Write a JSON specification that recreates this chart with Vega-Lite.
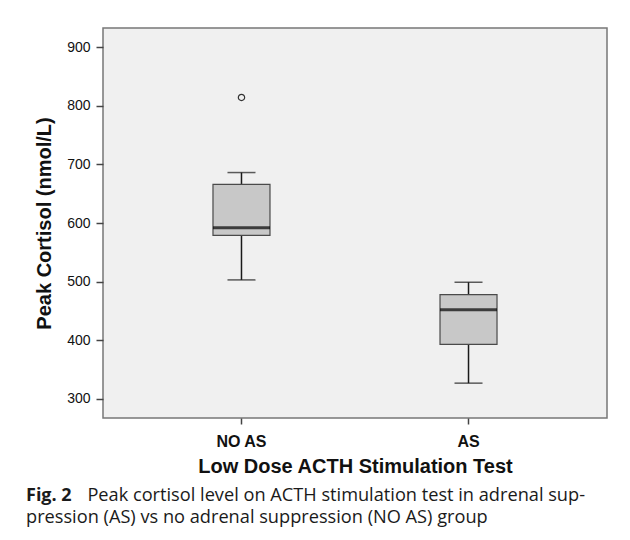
{
  "$schema": "https://vega.github.io/schema/vega-lite/v6.json",
  "autosize": {"type": "none"},
  "width": 504,
  "height": 390,
  "padding": {"left": 103, "top": 28, "right": 23, "bottom": 122},
  "background": "white",
  "datasets": {
    "boxes": [
      {"group": "NO AS", "min": 503, "q1": 579, "median": 592, "q3": 666, "max": 686},
      {"group": "AS", "min": 327, "q1": 393, "median": 452, "q3": 478, "max": 499}
    ],
    "outliers": [
      {"group": "NO AS", "value": 814}
    ]
  },
  "title": {
    "text": "Fig. 2",
    "subtitle": ["\u200b\u00a0\u00a0\u00a0\u00a0\u00a0\u00a0\u00a0\u00a0\u00a0\u00a0\u00a0\u00a0\u00a0Peak cortisol level on ACTH stimulation test in adrenal sup-", "pression (AS) vs no adrenal suppression (NO AS) group"],
    "orient": "bottom",
    "anchor": "start",
    "frame": "group",
    "dx": -77,
    "offset": 11,
    "font": "Open Sans",
    "fontSize": 18,
    "fontWeight": "bold",
    "color": "#1a1a1a",
    "subtitleFont": "Open Sans",
    "subtitleFontSize": 18.2,
    "subtitleFontWeight": "normal",
    "subtitleColor": "#1a1a1a",
    "subtitleLineHeight": 21.5,
    "subtitlePadding": -18
  },
  "encoding": {
    "x": {
      "field": "group",
      "type": "nominal",
      "sort": ["NO AS", "AS"],
      "scale": {"paddingInner": 0.5, "paddingOuter": 0.36},
      "axis": {
        "title": "Low Dose ACTH Stimulation Test",
        "titleFont": "Liberation Sans",
        "titleFontSize": 20,
        "titleFontWeight": "bold",
        "titleColor": "#111111",
        "titlePadding": 7,
        "labelFont": "Liberation Sans",
        "labelFontSize": 16,
        "labelFontWeight": "bold",
        "labelColor": "#111111",
        "labelAngle": 0,
        "labelPadding": 9,
        "domain": false,
        "tickSize": 6,
        "tickColor": "#444444",
        "tickWidth": 1.5
      }
    }
  },
  "layer": [
    {
      "data": {"name": "boxes"},
      "mark": {"type": "rule", "color": "#1a1a1a", "strokeWidth": 1.5},
      "encoding": {
        "y": {
          "field": "min",
          "type": "quantitative",
          "scale": {"domain": [267.6, 932.4], "nice": false, "zero": false},
          "axis": {
            "title": "Peak Cortisol (nmol/L)",
            "titleFont": "Liberation Sans",
            "titleFontSize": 20,
            "titleFontWeight": "bold",
            "titleColor": "#111111",
            "titlePadding": 12,
            "values": [300, 400, 500, 600, 700, 800, 900],
            "labelFont": "Liberation Sans",
            "labelFontSize": 14,
            "labelColor": "#111111",
            "labelPadding": 6,
            "grid": false,
            "domain": false,
            "tickSize": 7,
            "tickColor": "#444444",
            "tickWidth": 1.5
          }
        },
        "y2": {"field": "max"}
      }
    },
    {
      "data": {"name": "boxes"},
      "mark": {"type": "tick", "color": "#1a1a1a", "size": 28, "thickness": 1.5, "orient": "horizontal"},
      "encoding": {"y": {"field": "min", "type": "quantitative"}}
    },
    {
      "data": {"name": "boxes"},
      "mark": {"type": "tick", "color": "#1a1a1a", "size": 28, "thickness": 1.5, "orient": "horizontal"},
      "encoding": {"y": {"field": "max", "type": "quantitative"}}
    },
    {
      "data": {"name": "boxes"},
      "mark": {"type": "bar", "size": 57, "fill": "#c8c8c8", "stroke": "#4a4a4a", "strokeWidth": 1.2},
      "encoding": {
        "y": {"field": "q1", "type": "quantitative"},
        "y2": {"field": "q3"}
      }
    },
    {
      "data": {"name": "boxes"},
      "mark": {"type": "tick", "color": "#000000", "size": 57, "thickness": 3, "orient": "horizontal"},
      "encoding": {"y": {"field": "median", "type": "quantitative"}}
    },
    {
      "data": {"name": "outliers"},
      "mark": {"type": "point", "shape": "circle", "filled": false, "size": 40, "stroke": "#333333", "strokeWidth": 1.2, "opacity": 1},
      "encoding": {"y": {"field": "value", "type": "quantitative"}}
    }
  ],
  "config": {
    "view": {"fill": "#f0f0f0", "stroke": "#777777", "strokeWidth": 1.5}
  }
}
